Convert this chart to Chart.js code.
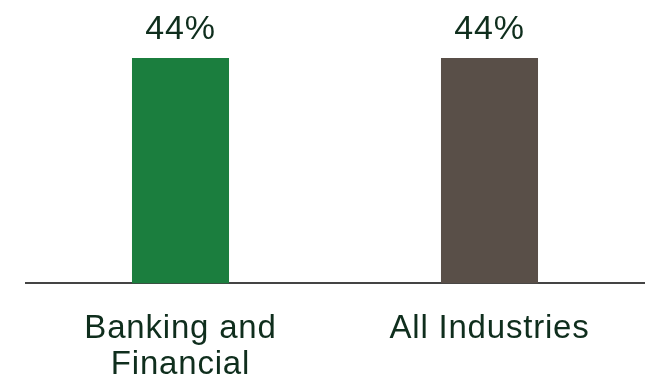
<!DOCTYPE html>
<html>
<head>
<meta charset="utf-8">
<script src="https://cdn.jsdelivr.net/npm/chart.js@4"></script>
<style>
  html, body { margin: 0; padding: 0; background: #fff; }
  #wrap { width: 649px; height: 380px; }
</style>
</head>
<body>
<div id="wrap"><canvas id="chart"></canvas></div>
<script>
// categorias y valores (%)
const categories = [['Banking and', 'Financial'], 'All Industries'];
const values = [44, 44];
const barColors = ['#1b7e3e', '#594f48'];

const textColor = '#0f2e1d';
const fontFamily = '"Liberation Sans", Arial, sans-serif';

// etiquetas de valor encima de cada barra
const valueLabels = {
  id: 'valueLabels',
  afterDatasetsDraw(chart) {
    const ctx = chart.ctx;
    const meta = chart.getDatasetMeta(0);
    ctx.save();
    ctx.font = '34px ' + fontFamily;
    ctx.letterSpacing = '0.8px';
    ctx.fillStyle = textColor;
    ctx.textAlign = 'center';
    ctx.textBaseline = 'alphabetic';
    meta.data.forEach((bar, i) => {
      ctx.fillText(values[i] + '%', bar.x, bar.y - 19);
    });
    ctx.restore();
  }
};

// espaciado de letras para los textos del eje
const spacing = {
  id: 'spacing',
  beforeDraw(chart) { chart.ctx.letterSpacing = '0.8px'; }
};

new Chart(document.getElementById('chart'), {
  type: 'bar',
  data: {
    labels: categories,
    datasets: [{
      data: values,
      backgroundColor: barColors,
      categoryPercentage: 1,
      barPercentage: 0.314
    }]
  },
  options: {
    responsive: true,
    maintainAspectRatio: false,
    animation: false,
    layout: { padding: { top: 58, left: 26, right: 5, bottom: -30 } },
    plugins: {
      legend: { display: false },
      tooltip: { enabled: false }
    },
    scales: {
      y: { display: false, min: 0, max: 44 },
      x: {
        grid: { display: false, drawTicks: false },
        border: { display: true, color: '#444444', width: 2 },
        ticks: {
          color: textColor,
          padding: 27,
          font: { family: fontFamily, size: 33, lineHeight: 1.1 },
          maxRotation: 0
        }
      }
    }
  },
  plugins: [spacing, valueLabels]
});
</script>
</body>
</html>
